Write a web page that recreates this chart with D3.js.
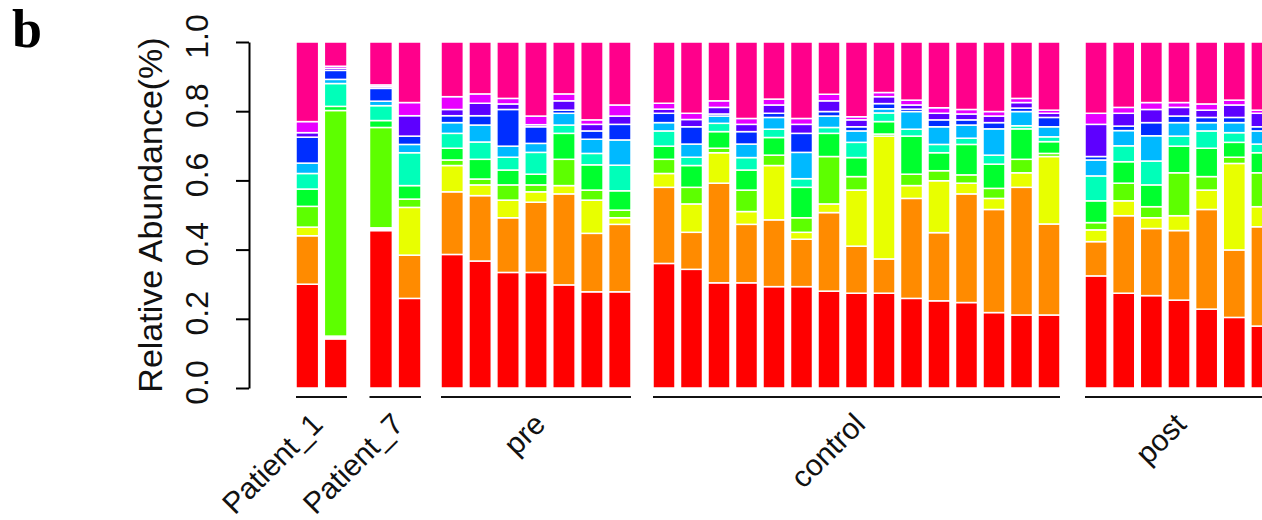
<!DOCTYPE html>
<html>
<head>
<meta charset="utf-8">
<script src="https://cdn.jsdelivr.net/npm/d3@7"></script>
<style>
  body { margin: 0; background: #fff; }
  svg { display: block; }
</style>
</head>
<body>
<div class="chart"></div>
<script>
// taxa, stacked bottom -> top (R rainbow(11))
var taxa = ['t1', 't2', 't3', 't4', 't5', 't6', 't7', 't8', 't9', 't10', 't11'];
var taxaColors = ['#FF0000', '#FF8B00', '#E8FF00', '#5DFF00', '#00FF2E', '#00FFB9',
                  '#00B9FF', '#002EFF', '#5D00FF', '#E800FF', '#FF008B'];

var groupNames = ['Patient_1', 'Patient_7', 'pre', 'control', 'post'];

// one row per sample, one value per taxon
var patient1 = [
    [.300, .140, .025, .060, .050, .045, .030, .075, .013, .032, .230],
    [.142, .004, .004, .652, .012, .066, .012, .026, .006, .006, .070]
];
var patient7 = [
    [.455, .004, .004, .290, .020, .043, .013, .037, .005, .005, .124],
    [.259, .125, .138, .024, .039, .095, .024, .024, .059, .038, .175]
];
var pre = [
    [.386, .181, .076, .016, .034, .043, .031, .020, .018, .037, .158],
    [.367, .189, .031, .017, .057, .050, .049, .027, .036, .027, .150],
    [.334, .158, .051, .044, .043, .037, .032, .106, .016, .016, .163],
    [.334, .203, .030, .020, .031, .063, .026, .048, .006, .025, .214],
    [.298, .263, .024, .076, .075, .024, .034, .009, .027, .020, .150],
    [.278, .169, .096, .029, .073, .033, .041, .024, .019, .013, .225],
    [.278, .195, .019, .022, .056, .074, .073, .045, .024, .032, .182]
];
var control = [
    [.360, .220, .040, .041, .038, .044, .024, .027, .012, .017, .177],
    [.343, .107, .082, .048, .063, .024, .038, .050, .021, .018, .206],
    [.304, .288, .088, .013, .048, .024, .021, .006, .019, .019, .170],
    [.304, .169, .037, .062, .058, .036, .039, .036, .021, .017, .221],
    [.293, .193, .157, .030, .051, .024, .034, .012, .024, .017, .165],
    [.293, .137, .020, .042, .088, .025, .076, .055, .026, .017, .221],
    [.280, .227, .025, .137, .067, .017, .033, .013, .031, .019, .151],
    [.274, .136, .162, .039, .055, .044, .033, .012, .020, .009, .216],
    [.274, .099, .355, .006, .036, .025, .012, .015, .020, .012, .146],
    [.259, .289, .037, .033, .110, .020, .051, .007, .012, .014, .168],
    [.252, .197, .150, .029, .052, .024, .051, .020, .019, .016, .190],
    [.247, .314, .031, .024, .088, .018, .038, .015, .017, .013, .195],
    [.218, .298, .032, .029, .070, .026, .076, .018, .019, .013, .201],
    [.211, .369, .042, .039, .088, .009, .041, .010, .016, .012, .163],
    [.211, .263, .195, .009, .034, .014, .029, .027, .012, .009, .197]
];
var post = [
    [.324, .099, .034, .021, .063, .072, .046, .010, .093, .032, .206],
    [.274, .224, .043, .051, .062, .046, .044, .013, .037, .017, .189],
    [.267, .194, .031, .032, .063, .069, .073, .038, .038, .020, .175],
    [.254, .201, .043, .124, .077, .029, .039, .019, .025, .014, .175],
    [.228, .288, .056, .039, .082, .050, .024, .015, .021, .018, .179],
    [.204, .195, .250, .018, .043, .028, .029, .015, .036, .014, .168],
    [.179, .287, .058, .098, .058, .025, .038, .012, .039, .009, .197]
];

var yTicks = [0, 0.2, 0.4, 0.6, 0.8, 1.0];

var width = 1262,
    height = 520;

// each group is its own little panel (pixel extent)
var panels = [[296, 347], [369.5, 421], [441, 631], [653, 1060], [1085, 1273]];
// nudges for the rotated group labels (end of text vs panel centre)
var labelShift = [3, 10, 11, 10.5, 9];
var groupData = [patient1, patient7, pre, control, post];

var svg = d3.select('.chart').append('svg')
    .attr('width', width)
    .attr('height', height);

var y = d3.scaleLinear().domain([0, 1]).range([388, 42]);

var color = d3.scaleOrdinal().domain(taxa).range(taxaColors);

var stack = d3.stack().keys(d3.range(taxa.length));

// panel letter
svg.append('text')
    .attr('x', 12)
    .attr('y', 47)
    .attr('font-family', '"Liberation Serif", "DejaVu Serif", serif')
    .attr('font-weight', 'bold')
    .attr('font-size', 54)
    .text('b');

// y axis
var yAxis = svg.append('g')
    .attr('transform', 'translate(249, 0)')
    .call(d3.axisLeft(y).tickValues(yTicks).tickFormat(d3.format('.1f')).tickSize(13).tickSizeOuter(0));

yAxis.select('.domain').attr('stroke-width', 2);
yAxis.selectAll('.tick line').attr('stroke-width', 2);
yAxis.selectAll('.tick text')
    .attr('x', null)
    .attr('dy', null)
    .attr('text-anchor', 'middle')
    .attr('transform', 'translate(-41, -6) rotate(-90)')
    .attr('font-family', '"Liberation Sans", Arial, sans-serif')
    .attr('font-size', 32)
    .attr('fill', '#111');

svg.append('text')
    .attr('transform', 'translate(162, 215) rotate(-90)')
    .attr('text-anchor', 'middle')
    .attr('font-family', '"Liberation Sans", Arial, sans-serif')
    .attr('font-size', 34)
    .attr('fill', '#111')
    .text('Relative Abundance(%)');

// bars, group by group
groupData.forEach(function(rows, gi) {
    var x = d3.scaleBand()
        .domain(d3.range(rows.length))
        .range(panels[gi])
        .paddingInner(0.2)
        .paddingOuter(0);

    var series = stack(rows);

    var g = svg.append('g').attr('class', 'group-' + gi);

    g.selectAll('g.layer')
        .data(series)
        .enter().append('g')
        .attr('class', 'layer')
        .attr('fill', function(d) { return color(taxa[d.key]); })
        .selectAll('rect')
        .data(function(d) { return d; })
        .enter().append('rect')
        .attr('x', function(d, i) { return x(i); })
        .attr('width', x.bandwidth())
        .attr('y', function(d) { return y(d[1]); })
        .attr('height', function(d) { return y(d[0]) - y(d[1]); })
        .attr('stroke', '#fff')
        .attr('stroke-width', 1.5);

    // underline
    g.append('line')
        .attr('x1', panels[gi][0])
        .attr('x2', panels[gi][1])
        .attr('y1', 397)
        .attr('y2', 397)
        .attr('stroke', '#111')
        .attr('stroke-width', 2);

    var cx = (panels[gi][0] + panels[gi][1]) / 2 + labelShift[gi];
    g.append('text')
        .attr('transform', 'translate(' + cx + ', 426) rotate(-45)')
        .attr('text-anchor', 'end')
        .attr('font-family', '"Liberation Sans", Arial, sans-serif')
        .attr('font-size', 30)
        .attr('fill', '#111')
        .text(groupNames[gi]);
});
</script>
</body>
</html>
